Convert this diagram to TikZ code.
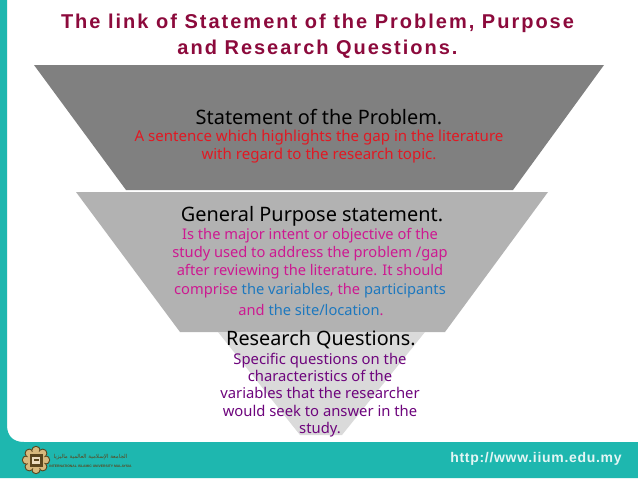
\documentclass[tikz,border=0pt]{standalone}
\usepackage{fontspec}
\setmainfont{Noto Sans}
\newfontfamily\titlefont[LetterSpace=10]{Liberation Sans}
\newfontfamily\urlfont[LetterSpace=5]{Liberation Sans}
\newfontfamily\capfont{Liberation Sans}
\newfontfamily\arabicfont[Script=Arabic]{DejaVu Sans}
\TeXXeTstate=1
\definecolor{teal1}{RGB}{30,183,175}
\definecolor{maroon1}{RGB}{140,10,60}
\definecolor{gray1}{RGB}{128,128,128}
\definecolor{gray2}{RGB}{178,178,178}
\definecolor{gray3}{RGB}{218,218,218}
\definecolor{red1}{RGB}{225,25,35}
\definecolor{pink1}{RGB}{205,25,145}
\definecolor{blue1}{RGB}{30,120,190}
\definecolor{purple1}{RGB}{110,5,125}
\definecolor{gold1}{RGB}{90,70,30}
\definecolor{tan1}{RGB}{215,185,125}
\tikzset{
  x=1pt,y=-1pt,
  head/.style={font=\fontsize{19.9}{24}\selectfont,text=black,inner sep=0,anchor=center},
  body/.style={font=\fontsize{15.05}{18}\selectfont,inner sep=0,align=center,anchor=center},
  titletext/.style={font=\titlefont\bfseries\fontsize{20}{26}\selectfont,text=maroon1,align=center,inner sep=0},
}
\begin{document}
\begin{tikzpicture}
\useasboundingbox (0,0) rectangle (638,479);
\fill[white] (0,0) rectangle (638,479);
% frame
\fill[teal1] (0,0) -- (7,0) -- (7,425) .. controls (7,436) and (13,442) .. (24,442) -- (638,442) -- (638,478) -- (0,478) -- cycle;
% funnel
\fill[gray1] (34,65) -- (604,65) -- (513,190) -- (126,190) -- cycle;
\fill[gray2] (76,192) -- (548,192) -- (445,332) -- (180,332) -- cycle;
\fill[gray3] (218,332) -- (425,332) -- (342,435) -- (300,435) -- cycle;
% texts
\node[titletext] (title) at (317.5,36) {The link of Statement of the Problem, Purpose\\and Research Questions.};
\node[head] (h1) at (319,117) {Statement of the Problem.};
\node[body,text=red1] (b1) at (319,147) {A sentence which highlights the gap in the literature\\with regard to the research topic.};
\node[head] (h2) at (312,216) {General Purpose statement.};
\node[body,text=pink1,font=\fontsize{14.65}{18.2}\selectfont] (b2) at (310,263) {Is the major intent or objective of the\\study used to address the problem /gap\\after reviewing the literature. It should\\comprise \textcolor{blue1}{the variables}, the \textcolor{blue1}{participants}};
\node[body,text=pink1,font=\fontsize{14.65}{18}\selectfont] (b2b) at (311,310) {and \textcolor{blue1}{the site/location}.};
\node[head,font=\fontsize{19.8}{24}\selectfont] (h3) at (321,340) {Research Questions.};
\node[body,text=purple1,font=\fontsize{14.8}{17.4}\selectfont] (b3) at (320,395) {Specific questions on the\\characteristics of the\\variables that the researcher\\would seek to answer in the\\study.};
% footer
\node[font=\urlfont\bfseries\fontsize{14}{16}\selectfont,text=white!88!teal1,inner sep=0] (url) at (536,459) {http://www.iium.edu.my};
% logo
\begin{scope}[shift={(36,460)}]
  \foreach \a in {0,45,...,315}
    \filldraw[fill=tan1,draw=gold1,line width=0.9pt] (\a:9.5) circle (4.2);
  \fill[tan1] (0,0) circle (9);
  \fill[gold1] (-6.5,-6.5) rectangle (6.5,6.5);
  \fill[tan1!50!white] (-4,-3.5) rectangle (4,3.5);
  \fill[gold1] (-2.5,-1) rectangle (2.5,1);
\end{scope}
\node[font=\arabicfont\fontsize{5.5}{6}\selectfont,text=gold1,inner sep=0] (ar) at (90.5,457) {\beginR الجامعة الإسلامية العالمية ماليزيا\endR};
\node[font=\capfont\bfseries\fontsize{3.4}{4}\selectfont,text=gold1,inner sep=0] (en) at (90.5,466) {INTERNATIONAL ISLAMIC UNIVERSITY MALAYSIA};
\end{tikzpicture}
\end{document}
